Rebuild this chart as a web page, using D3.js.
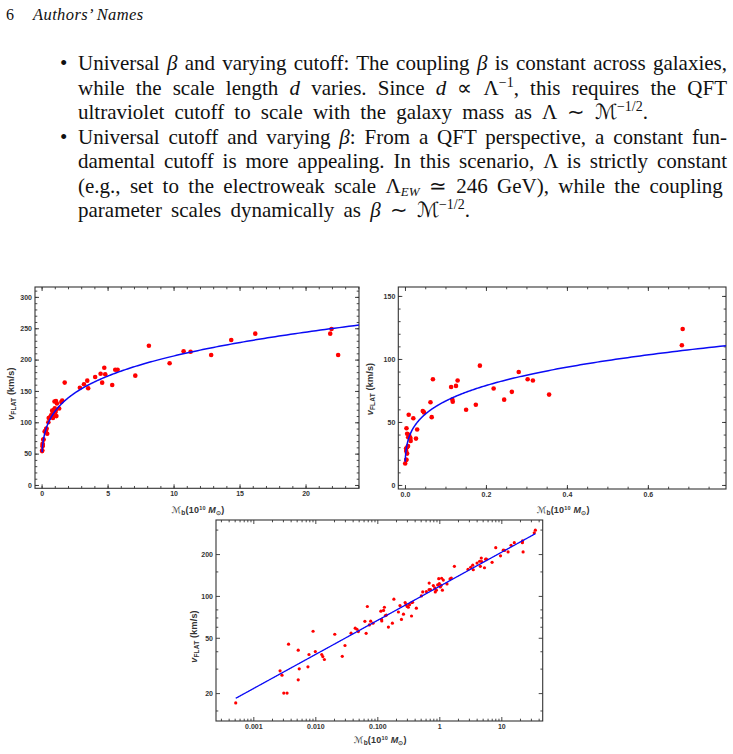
<!DOCTYPE html>
<html>
<head>
<meta charset="utf-8">
<script src="https://cdn.jsdelivr.net/npm/d3@7"></script>
<style>
body{margin:0; background:white;}
text.body{font-family:"Liberation Serif", serif; font-size:21px; fill:#111;}
.tick text{font-family:"Liberation Sans", Arial, sans-serif; font-weight:bold; font-size:7px; fill:#333;}
text.axlabel{font-family:"Liberation Sans", Arial, sans-serif; font-weight:bold; font-size:9px; letter-spacing:0.2px; fill:#333;}
</style>
</head>
<body>
<svg id="page" width="733" height="754"></svg>
<script>

// Low mass galaxies (second panel). Baryonic mass in 10^10 solar masses, v in km/s.
const lowMass = [0.00052,0.0027,0.0029,0.0031,0.0035,0.0037,0.0053,0.0053,0.0055,0.0076,
  0.0079,0.0092,0.0100,0.0127,0.0132,0.0140,0.0206,0.0272,0.0301,0.044,
  0.047,0.063,0.066,0.069,0.114,0.117,0.118,0.126,0.130,0.151,
  0.175,0.185,0.219,0.245,0.264,0.281,0.303,0.316,0.356,0.684,0.686];
const lowVel = [17.0,28.9,26.9,20.0,20.0,45.0,40.7,24.9,29.9,30.9,
  37.9,55.7,39.8,37.9,36.6,34.9,53.0,36.8,44.0,58.6,
  57.6,65.7,53.8,83.9,77.7,67.8,66.0,78.6,82.9,59.7,
  63.7,94.7,76.6,67.7,73.9,89.6,83.9,82.9,71.7,110.9,123.8];

// Massive galaxies (first panel).
const highMass = [0.0377,0.0494,0.0743,0.0782,0.0853,0.135,0.140,0.232,0.290,0.330,
  0.359,0.370,0.426,0.513,0.540,0.617,0.720,0.800,0.843,0.861,
  0.895,0.940,0.978,1.00,1.04,1.07,1.09,1.12,1.16,1.33,
  1.49,1.56,1.75,2.90,3.21,3.46,3.53,4.06,4.47,4.59,
  4.75,4.82,5.35,5.58,5.76,7.10,8.13,9.70,10.76,11.29,
  12.85,14.37,16.19,21.87,21.97,22.47,34.0,35.4];
const highVel = [54.0,55.4,61.9,65.8,63.6,72.2,72.8,85.2,86.5,86.5,
  89.5,90.0,81.6,100.0,106.8,107.4,111.0,118.6,114.1,106.8,
  109.9,120.0,133.1,122.5,116.0,119.0,134.0,109.9,130.0,122.0,
  132.4,134.5,163.3,155.2,160.6,166.4,154.2,172.2,177.5,163.2,
  187.1,176.5,159.5,183.9,183.9,174.4,222.2,194.1,213.2,212.6,
  207.3,231.3,241.4,241.4,248.8,207.3,284.6,297.0];

// Fitted relation v = A * M^p.
const fitA = 117;
const fitSlope = 0.245;

// Tick values.
const p1xMajor = [0,5,10,15,20];
const p1yMajor = [0,50,100,150,200,250,300];
const p2xMajor = [0,0.2,0.4,0.6];
const p2yMajor = [0,50,100,150];
const p3xMajor = [0.001,0.01,0.1,1,10];
const p3xLabels = ["0.001","0.010","0.100","1","10"];
const p3yMajor = [20,50,100,200];
const p3yMinor = [15,30,40,60,70,80,150,300];


let page = d3.select("#page");

let zip = (ms, vs) => ms.map((m,i)=>({m:m, v:vs[i]}));
let lowData = zip(lowMass, lowVel);
let highData = zip(highMass, highVel);
let allData = lowData.concat(highData);


// ---------------- text of the page ----------------

function textline(parts, x, y, width){
	let t = page.append("text").attr("class","body").attr("x",x).attr("y",y);
	let shift = 0;
	parts.forEach(p=>{
		let [s, style] = typeof p == "string" ? [p, ""] : p;
		let target = style=="sup" ? -8 : style=="sub" ? 3 : 0;
		let ts = t.append("tspan").text(s).attr("dy", target-shift);
		shift = target;
		if(style=="i" || style=="sub") ts.attr("font-style","italic");
		if(style=="sup") ts.attr("font-size", 14);
		if(style=="sub") ts.attr("font-size", 13);
	}); // forEach
	
	// Fit the line to its width: stretch the word spaces, or squeeze the whole line if too long.
	let natural = t.node().getComputedTextLength();
	if(natural < width){
		let spaces = (t.text().match(/ /g) || []).length;
		t.attr("word-spacing", (width-natural)/spaces);
	} else {
		t.attr("textLength", width).attr("lengthAdjust", "spacing");
	} // if
	return t;
} // textline

page.append("text").attr("class","body").attr("x",6).attr("y",20).style("font-size","16px").text("6");
page.append("text").attr("class","body").attr("x",33).attr("y",20).style("font-size","16.5px")
  .style("letter-spacing","0.4px").attr("font-style","italic").text("Authors’ Names");

const tx = 78, tw = 649;
page.append("text").attr("class","body").attr("x",60).attr("y",70).text("•");
textline(["Universal ", ["β","i"], " and varying cutoff: The coupling ", ["β","i"], " is constant across galaxies,"], tx, 70, tw);
textline(["while the scale length ", ["d","i"], " varies. Since ", ["d","i"], " ∝ Λ", ["−1","sup"], ", this requires the QFT"], tx, 95, tw);
textline(["ultraviolet cutoff to scale with the galaxy mass as Λ ∼ ℳ", ["−1/2","sup"], "."], tx, 119, 570);
page.append("text").attr("class","body").attr("x",60).attr("y",144).text("•");
textline(["Universal cutoff and varying ", ["β","i"], ": From a QFT perspective, a constant fun-"], tx, 144, tw);
textline(["damental cutoff is more appealing. In this scenario, Λ is strictly constant"], tx, 168, tw);
textline(["(e.g., set to the electroweak scale Λ", ["EW","sub"], "  ≃ 246 GeV), while the coupling"], tx, 193, tw);
textline(["parameter scales dynamically as ", ["β","i"], " ∼ ℳ", ["−1/2","sup"], "."], tx, 217, 392);


// ---------------- the three panels ----------------

function minorticks(scale, step){
	let [a,b] = scale.domain();
	return d3.range(Math.ceil(a/step)*step, b, step).map(d=>+d.toFixed(6));
} // minorticks

function logminor(scale){
	let [a,b] = scale.domain();
	let out = [];
	for(let e=Math.floor(Math.log10(a)); e<=Math.ceil(Math.log10(b)); e++){
		for(let k=2; k<=9; k++){
			let v = k*Math.pow(10,e);
			if(v>=a && v<=b) out.push(v);
		} // for
	} // for
	return out;
} // logminor


function drawpanel(cfg){
	let x = cfg.x, y = cfg.y;
	let [x0,x1] = x.range();
	let [y0,y1] = y.range();
	let g = page.append("g");
	
	let clipid = "clip" + cfg.id;
	g.append("clipPath").attr("id", clipid)
	  .append("rect").attr("x",x0).attr("y",y1).attr("width",x1-x0).attr("height",y0-y1);
	
	
	// Ticks on all four sides, pointing inward; labels only left and bottom.
	let sides = [
		{axis:d3.axisBottom, scale:x, t:`translate(0,${y0})`, label:true,  major:cfg.xMajor, minor:cfg.xMinor, fmt:cfg.xFormat},
		{axis:d3.axisTop,    scale:x, t:`translate(0,${y1})`, label:false, major:cfg.xMajor, minor:cfg.xMinor},
		{axis:d3.axisLeft,   scale:y, t:`translate(${x0},0)`, label:true,  major:cfg.yMajor, minor:cfg.yMinor, fmt:cfg.yFormat},
		{axis:d3.axisRight,  scale:y, t:`translate(${x1},0)`, label:false, major:cfg.yMajor, minor:cfg.yMinor}
	];
	sides.forEach(s=>{
		g.append("g").attr("transform", s.t)
		  .call(s.axis(s.scale).tickValues(s.minor).tickSize(-2.3).tickFormat(""))
		  .call(a=>a.select(".domain").remove());
		g.append("g").attr("transform", s.t)
		  .call(s.axis(s.scale).tickValues(s.major).tickSize(-4).tickPadding(3)
		    .tickFormat(s.label ? (s.fmt || d3.format("")) : ""))
		  .call(a=>a.select(".domain").remove());
	}); // forEach
	g.selectAll(".tick line").attr("stroke","#333").attr("stroke-width",0.9);
	g.selectAll(".tick text").attr("font-size",null).attr("font-family",null);
	
	g.append("rect")
	  .attr("x",x0).attr("y",y1).attr("width",x1-x0).attr("height",y0-y1)
	  .attr("fill","none").attr("stroke","#333").attr("stroke-width",1.1);
	
	
	// Data and fitted curve, clipped to the frame.
	let plot = g.append("g").attr("clip-path", `url(#${clipid})`);
	
	plot.selectAll("circle")
	  .data(cfg.data)
	  .enter()
	  .append("circle")
	    .attr("cx", d=>x(d.m))
	    .attr("cy", d=>y(d.v))
	    .attr("r", cfg.r)
	    .attr("fill", "#f00");
	
	let mlo = d3.min(cfg.data, d=>d.m);
	let mhi = cfg.curveEnd;
	let curve = d3.range(0, 401).map(i=>{
		let m = mlo*Math.pow(mhi/mlo, i/400);
		return {m:m, v:fitA*Math.pow(m, fitSlope)};
	});
	plot.append("path")
	  .datum(curve)
	  .attr("d", d3.line().x(d=>x(d.m)).y(d=>y(d.v)))
	  .attr("fill","none")
	  .attr("stroke","#0a0af5")
	  .attr("stroke-width", cfg.lw);
	
	
	// Axis labels, roughly centred on the frame.
	let yl = g.append("text").attr("class","axlabel")
	  .attr("text-anchor","middle")
	  .attr("transform", `translate(${cfg.ylabx},${(y0+y1)/2 + cfg.ylabdy}) rotate(-90)`);
	yl.append("tspan").attr("font-style","italic").text("v");
	yl.append("tspan").attr("font-size",6.5).attr("dy",2).text("FLAT");
	yl.append("tspan").attr("dy",-2).text(" (km/s)");
	
	let xl = g.append("text").attr("class","axlabel")
	  .attr("text-anchor","middle")
	  .attr("x", (x0+x1)/2 + 1).attr("y", cfg.xlaby);
	xl.append("tspan").attr("font-style","italic").attr("font-family","DejaVu Sans").attr("font-weight","normal").text("ℳ");
	xl.append("tspan").attr("font-size",6.5).attr("dy",2).text("b");
	xl.append("tspan").attr("dy",-2).text("(10");
	xl.append("tspan").attr("font-size",5.5).attr("dy",-3.5).text("10");
	xl.append("tspan").attr("dy",3.5).attr("font-style","italic").text(" M");
	xl.append("tspan").attr("font-size",5.5).attr("dy",2).text("⊙");
	xl.append("tspan").attr("dy",-2).text(")");
} // drawpanel


let x1s = d3.scaleLinear().domain([-0.5, 24.05]).range([35, 359]);
let y1s = d3.scaleLinear().domain([-5.3, 315.8]).range([488.3, 287]);
drawpanel({
	id: 1, x: x1s, y: y1s, data: highData, r: 2.3, lw: 1.5, curveEnd: x1s.domain()[1],
	xMajor: p1xMajor, xMinor: minorticks(x1s, 1),
	yMajor: p1yMajor, yMinor: minorticks(y1s, 10),
	ylabx: 14, ylabdy: 6, xlaby: 513
});

let x2s = d3.scaleLinear().domain([-0.0165, 0.793]).range([398.3, 726]);
let y2s = d3.scaleLinear().domain([-3.2, 157.1]).range([489, 287]);
drawpanel({
	id: 2, x: x2s, y: y2s, data: lowData, r: 2.3, lw: 1.5, curveEnd: x2s.domain()[1],
	xMajor: p2xMajor, xMinor: minorticks(x2s, 0.05), xFormat: d3.format(".1f"),
	yMajor: p2yMajor, yMinor: minorticks(y2s, 10),
	ylabx: 373, ylabdy: 1, xlaby: 513
});

let x3s = d3.scaleLog().domain([0.00025, 46.5]).range([216, 542.7]);
let y3s = d3.scaleLog().domain([12.6, 351.6]).range([721, 520]);
drawpanel({
	id: 3, x: x3s, y: y3s, data: allData, r: 1.6, lw: 1.3, curveEnd: d3.max(allData, d=>d.m),
	xMajor: p3xMajor, xMinor: logminor(x3s), xFormat: (d,i)=>p3xLabels[i],
	yMajor: p3yMajor, yMinor: p3yMinor,
	ylabx: 197, ylabdy: 16, xlaby: 743
});

</script>
</body>
</html>
